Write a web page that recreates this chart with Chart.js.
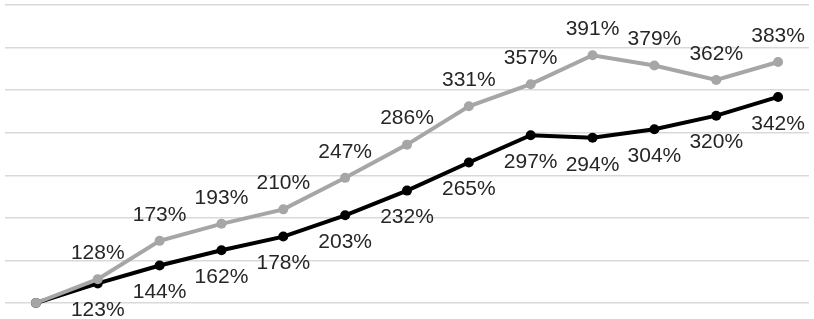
<!DOCTYPE html>
<html lang="en">
<head>
    <meta charset="UTF-8">
    <meta name="viewport" content="width=device-width, initial-scale=1.0">
    <title>Growth comparison</title>
    <script src="https://cdn.jsdelivr.net/npm/chart.js"></script>
    <style>
        html, body { margin: 0; padding: 0; background: #fff; }
        .chart-box { width: 814px; height: 319px; }
    </style>
</head>
<body>
    <div class="chart-box">
        <canvas id="growthChart"></canvas>
    </div>

    <script>
        // values (percent)
        const categories = ['1', '2', '3', '4', '5', '6', '7', '8', '9', '10', '11', '12', '13'];
        const upperSeries = [100, 128, 173, 193, 210, 247, 286, 331, 357, 391, 379, 362, 383];
        const lowerSeries = [100, 123, 144, 162, 178, 203, 232, 265, 297, 294, 304, 320, 342];
        const yTicks = [100, 150, 200, 250, 300, 350, 400, 450];

        // draws the "xxx%" labels, grey ones above the point, black ones below
        const valueLabels = {
            id: 'valueLabels',
            afterDatasetsDraw(chart) {
                const ctx = chart.ctx;
                ctx.save();
                ctx.font = '21px "Liberation Sans", Arial, sans-serif';
                ctx.fillStyle = '#262626';
                ctx.textAlign = 'center';
                ctx.textBaseline = 'middle';
                chart.data.datasets.forEach((ds, i) => {
                    const meta = chart.getDatasetMeta(i);
                    meta.data.forEach((pt, j) => {
                        if (j === 0) return;
                        const dy = ds.labelAbove ? -26 : 27;
                        ctx.fillText(ds.data[j] + '%', pt.x, pt.y + dy);
                    });
                });
                ctx.restore();
            }
        };

        const ctx = document.getElementById('growthChart').getContext('2d');
        new Chart(ctx, {
            type: 'line',
            data: {
                labels: categories,
                datasets: [{
                    data: upperSeries,
                    labelAbove: true,
                    borderColor: '#a6a6a6',
                    backgroundColor: '#a6a6a6',
                    borderWidth: 4,
                    pointRadius: 5,
                    pointBorderWidth: 0,
                    tension: 0,
                    clip: false
                }, {
                    data: lowerSeries,
                    labelAbove: false,
                    borderColor: '#000000',
                    backgroundColor: '#000000',
                    borderWidth: 4,
                    pointRadius: 5,
                    pointBorderWidth: 0,
                    tension: 0,
                    clip: false
                }]
            },
            options: {
                responsive: true,
                maintainAspectRatio: false,
                devicePixelRatio: 1,
                animation: false,
                layout: { padding: { top: -3, bottom: 16, left: 0, right: 2 } },
                plugins: {
                    legend: { display: false },
                    tooltip: { enabled: false }
                },
                scales: {
                    x: {
                        display: false,
                        offset: true
                    },
                    y: {
                        min: yTicks[0],
                        max: yTicks[yTicks.length - 1],
                        afterBuildTicks: (scale) => {
                            scale.ticks = yTicks.map(v => ({ value: v }));
                        },
                        ticks: { display: false },
                        grid: { color: '#d9d9d9', lineWidth: 1.5, drawTicks: false },
                        border: { display: false }
                    }
                }
            },
            plugins: [valueLabels]
        });
    </script>
</body>
</html>
